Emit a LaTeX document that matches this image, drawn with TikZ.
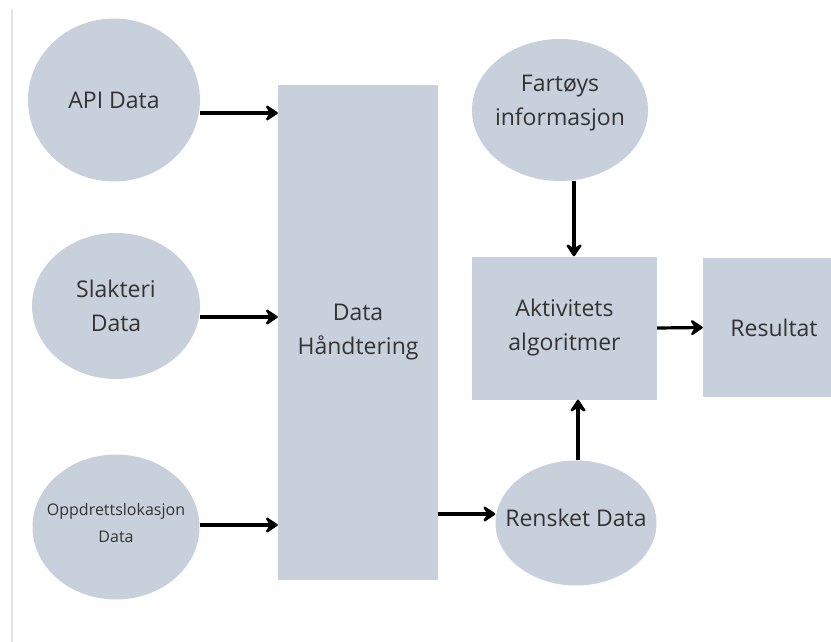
\documentclass[tikz,border=0pt]{standalone}
\usepackage{fontspec}
\setmainfont{Open Sans}
\usetikzlibrary{shapes.geometric,arrows.meta}
\definecolor{fillgrey}{HTML}{C8D1DB}
\definecolor{textgrey}{HTML}{333333}
\definecolor{rulegrey}{HTML}{E2E2E8}
\newcommand{\zline}[1]{\makebox[0pt]{#1}}
\newcommand{\lift}[1]{\rule[-#1]{0pt}{0pt}}

\begin{document}
\begin{tikzpicture}[x=1pt,y=-1pt,
    datacircle/.style={ellipse,fill=fillgrey,inner sep=0pt,align=center,
      text=textgrey,font=\fontsize{23}{34}\selectfont},
    databox/.style={rectangle,fill=fillgrey,inner sep=0pt,align=center,
      text=textgrey,font=\fontsize{23}{34}\selectfont},
    flow/.style={line width=3.2pt,-{Stealth[length=15pt,width=20pt,inset=6pt,round]}}]
        \clip (0,0) rectangle (831,642);
        \draw[rulegrey,line width=1.5pt] (12,9) -- (12,642);
        \node[datacircle,minimum width=172pt,minimum height=163pt] (api) at (114,100) {\zline{API Data}};
        \node[datacircle,minimum width=168pt,minimum height=146pt] (slakteri) at (116,306) {\zline{Slakteri}\\\zline{Data}};
        \node[datacircle,minimum width=167pt,minimum height=145pt,
              font=\fontsize{16}{27}\selectfont] (oppdrett) at (116,527) {\zline{Oppdrettslokasjon}\\\zline{Data}\lift{9pt}};
        \node[databox,minimum width=160pt,minimum height=495pt] (handtering) at (358,332.5) {Data\\Håndtering};
        \node[datacircle,minimum width=176pt,minimum height=142pt] (fartoy) at (560,110) {\zline{Fartøys}\\\zline{informasjon}\lift{20pt}};
        \node[databox,minimum width=185pt,minimum height=143pt] (aktivitet) at (564.5,328) {Aktivitets\\algoritmer};
        \node[databox,minimum width=142pt,minimum height=139pt] (resultat) at (774,327.5) {Resultat};
        \node[datacircle,minimum width=161pt,minimum height=125pt] (rensket) at (576,523) {\zline{Rensket Data}\lift{10pt}};
        \draw[flow] (api.east |- 0,113) -- (handtering.west |- 0,113);
        \draw[flow] (slakteri.east |- 0,317) -- (handtering.west |- 0,317);
        \draw[flow] (oppdrett.east |- 0,525) -- (handtering.west |- 0,525);
        \draw[flow] (handtering.east |- 0,514) -- (rensket.west |- 0,514);
        \draw[flow] (574,0 |- fartoy.south) -- (574,0 |- aktivitet.north);
        \draw[flow] (578,0 |- rensket.north) -- (578,0 |- aktivitet.south);
        \draw[flow] (aktivitet.east) -- (resultat.west);
\end{tikzpicture}
\end{document}
